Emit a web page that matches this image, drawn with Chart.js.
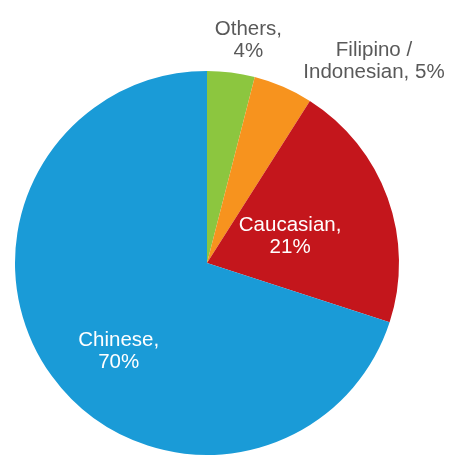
<!DOCTYPE html>
<html>
<head>
<meta charset="utf-8">
<script src="https://cdn.jsdelivr.net/npm/chart.js@4"></script>
<style>
  html, body { margin: 0; padding: 0; background: #fff; }
  #wrap { width: 449px; height: 457px; }
</style>
</head>
<body>
<div id="wrap"><canvas id="myChart"></canvas></div>
<script>
// datos (sentido horario desde arriba)
const categories = ['Others', 'Filipino / Indonesian', 'Caucasian', 'Chinese'];
const labelLines = [['Others,', '4%'], ['Filipino /', 'Indonesian, 5%'], ['Caucasian,', '21%'], ['Chinese,', '70%']];
const values = [4, 5, 21, 70];
const colors = ['#8cc63f', '#f7931e', '#c4161c', '#1a9bd7'];

// estilo de etiquetas: radio relativo + desplazamiento
const labelStyle = [
    { rf: 1.18, dx: 13, dy: 2, color: '#595959' },
    { rf: 1.18, dx: 77, dy: 6, color: '#595959' },
    { rf: 0.46, dx: 0, dy: 3, color: '#ffffff' },
    { rf: 0.62, dx: 8, dy: 18, color: '#ffffff' }
];

const sliceLabels = {
    id: 'sliceLabels',
    afterDatasetsDraw(chart) {
        const ctx = chart.ctx;
        const meta = chart.getDatasetMeta(0);
        ctx.save();
        ctx.font = '20.5px "Liberation Sans", Arial, sans-serif';
        ctx.textAlign = 'center';
        ctx.textBaseline = 'middle';
        meta.data.forEach((arc, i) => {
            const p = arc.getProps(['x', 'y', 'startAngle', 'endAngle', 'outerRadius'], true);
            const mid = (p.startAngle + p.endAngle) / 2;
            const st = labelStyle[i];
            const cx = p.x + Math.cos(mid) * p.outerRadius * st.rf + st.dx;
            const cy = p.y + Math.sin(mid) * p.outerRadius * st.rf + st.dy;
            ctx.fillStyle = st.color;
            const lines = labelLines[i];
            const lh = 22;
            lines.forEach((t, j) => {
                ctx.fillText(t, cx, cy + (j - (lines.length - 1) / 2) * lh);
            });
        });
        ctx.restore();
    }
};

const ctx = document.getElementById('myChart').getContext('2d');
new Chart(ctx, {
    type: 'pie',
    data: {
        labels: categories,
        datasets: [{
            data: values,
            backgroundColor: colors,
            borderWidth: 0,
            hoverOffset: 0
        }]
    },
    options: {
        responsive: true,
        maintainAspectRatio: false,
        animation: false,
        events: [],
        layout: { padding: { left: 15, right: 50, top: 71, bottom: 2 } },
        plugins: {
            legend: { display: false },
            tooltip: { enabled: false }
        }
    },
    plugins: [sliceLabels]
});
</script>
</body>
</html>
